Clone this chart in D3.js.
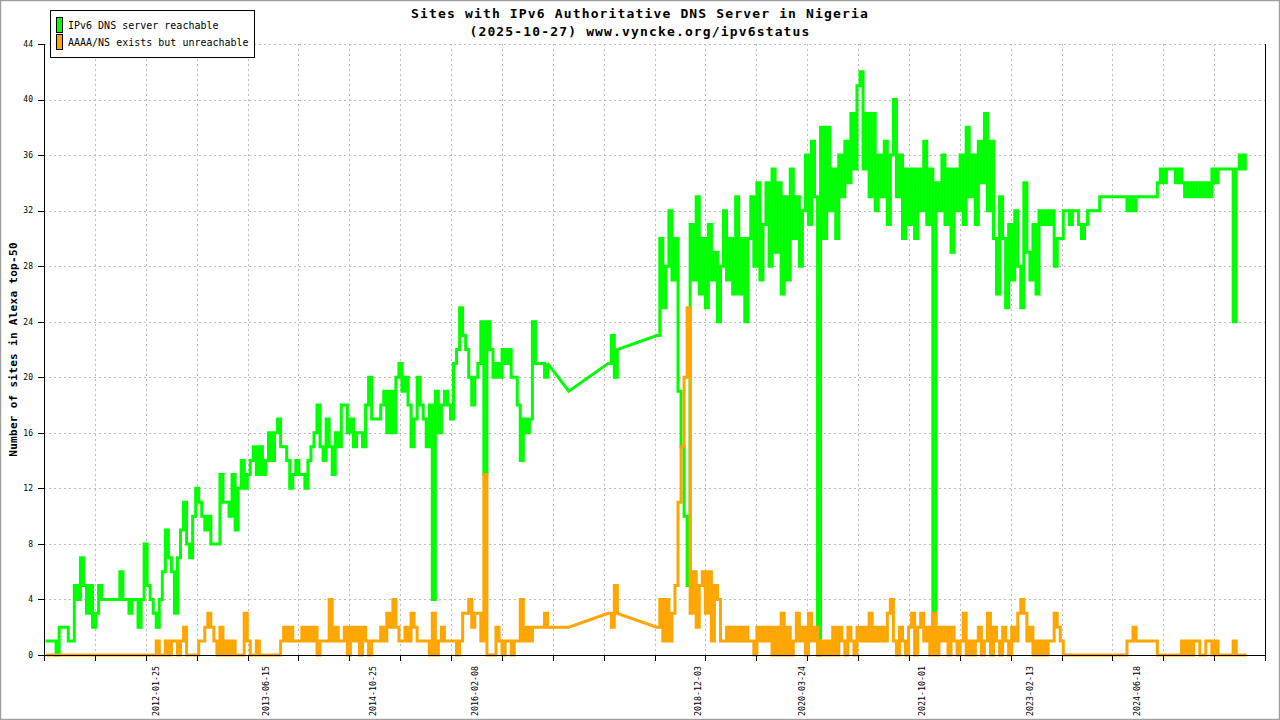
<!DOCTYPE html>
<html><head><meta charset="utf-8">
<script src="https://cdn.jsdelivr.net/npm/d3@7"></script>
<style>body{margin:0;background:#fff}svg{display:block}</style>
</head><body>
<svg id="c" width="1280" height="720"></svg>
<script>
// ---------------- data ----------------
const titleLines = ["Sites with IPv6 Authoritative DNS Server in Nigeria", "(2025-10-27) www.vyncke.org/ipv6status"];
const yAxisLabel = "Number of sites in Alexa top-50";
const seriesNames = ["IPv6 DNS server reachable", "AAAA/NS exists but unreachable"];
const seriesColors = ["#00ff00", "#ffa500"];
const xDomain = ["2010-08-27", "2026-01-30"];
const xGridDivisions = 24;
const xLabelDates = ["2012-01-25", "2013-06-15", "2014-10-25", "2016-02-08", "2018-12-03", "2020-03-24", "2021-10-01", "2023-02-13", "2024-06-18"];
const yTicks = [0, 4, 8, 12, 16, 20, 24, 28, 32, 36, 40, 44];
// samples taken every 14 days from sampleStart; null = no measurement (gap)
const sampleStart = "2010-09-10";
const sampleStepDays = 14;
const reachable = [
1,1,1,0,2,2,2,1,1,5,
4,7,5,3,5,2,3,5,4,4,
4,4,4,4,6,4,4,3,4,4,
2,4,8,5,4,3,2,4,6,9,
7,6,3,7,9,11,8,7,10,12,
11,10,9,10,8,8,8,13,11,11,
10,13,9,12,14,12,13,14,15,13,
15,13,14,16,14,16,17,15,15,14,
12,13,14,13,13,12,14,15,16,18,
15,14,17,15,13,16,15,18,18,16,
17,15,16,16,15,18,20,17,17,17,
18,19,16,19,16,20,21,19,20,18,
15,17,20,18,17,15,18,4,19,16,
18,19,18,17,21,22,25,23,22,20,
18,20,21,24,13,24,22,20,21,20,
22,21,22,20,20,18,14,17,16,17,
24,21,21,21,20,21,null,null,null,null,
null,null,19,null,null,null,null,null,null,null,
null,null,null,null,null,21,23,20,22,null,
null,null,null,null,null,null,null,null,null,null,
null,23,30,25,28,32,27,30,19,15,
10,5,31,27,33,26,30,25,31,27,
29,24,28,32,27,30,26,33,26,30,
24,30,33,28,34,27,31,34,28,35,
29,34,26,33,27,35,30,33,28,32,
36,31,37,33,0,38,30,38,32,35,
30,36,33,37,34,39,35,41,42,35,
39,33,39,32,36,33,37,31,36,40,
33,36,30,35,31,35,30,35,32,37,
31,35,2,34,32,36,31,35,29,35,
32,36,31,38,33,36,31,37,34,39,
32,37,30,26,33,30,25,31,27,32,
28,25,34,29,27,31,26,32,31,32,
31,32,28,30,30,32,32,31,32,32,
31,30,31,32,32,32,32,33,33,33,
33,33,33,33,33,33,32,33,32,33,
33,33,33,33,33,33,34,35,34,35,
35,35,34,35,34,33,34,33,34,33,
34,33,34,33,35,34,35,35,35,35,
35,24,35,36,35,36
];
const unreachable = [
0,0,0,0,0,0,0,0,0,0,
0,0,0,0,0,0,0,0,0,0,
0,0,0,0,0,0,0,0,0,0,
0,0,0,0,0,0,1,0,0,1,
0,1,1,0,1,2,0,0,0,0,
1,1,2,3,2,1,0,2,0,1,
0,1,0,0,0,3,1,0,0,1,
0,0,0,0,0,0,0,1,2,1,
2,1,1,1,2,1,2,1,2,0,
1,1,1,4,1,2,1,1,2,0,
2,1,2,0,2,1,0,1,1,1,
2,1,3,2,4,2,1,1,2,1,
3,2,1,1,1,1,0,3,0,1,
2,1,1,1,1,0,1,3,3,4,
2,3,3,1,13,0,0,0,2,1,
0,1,1,0,1,1,4,1,2,1,
2,2,2,2,3,2,null,null,null,null,
null,null,2,null,null,null,null,null,null,null,
null,null,null,null,null,3,2,5,3,null,
null,null,null,null,null,null,null,null,null,null,
null,2,4,1,4,1,3,5,11,15,
20,25,3,6,2,5,6,3,6,1,
5,4,1,1,2,1,2,1,2,1,
2,1,1,0,2,1,2,1,2,0,
2,0,3,0,2,0,1,3,1,2,
0,3,1,2,0,1,0,1,0,2,
0,2,1,0,2,1,0,2,1,2,
1,3,1,2,1,2,1,3,4,1,
0,2,1,0,2,3,0,2,3,1,
2,0,3,0,2,1,2,0,2,1,
0,1,3,0,1,0,1,2,0,1,
3,0,2,1,0,2,1,0,2,1,
3,4,3,1,2,0,1,0,1,0,
1,1,3,2,1,0,0,0,0,0,
0,0,0,0,0,0,0,0,0,0,
0,0,0,0,0,0,1,1,2,1,
1,1,1,1,1,1,0,0,0,0,
0,0,0,0,1,0,1,0,1,1,
0,0,1,1,0,1,0,0,0,0,
0,1,0,0,0,0
];

// ---------------- chart ----------------
const W = 1280, H = 720;
const plot = {left: 44, right: 1265, top: 44, bottom: 655};
const parse = d3.utcParse("%Y-%m-%d");
const svg = d3.select("#c");
const mono = "'DejaVu Sans Mono', 'Liberation Mono', monospace";

svg.append("rect").attr("x", 0).attr("y", 0).attr("width", W).attr("height", H).attr("fill", "#fff");
svg.append("rect").attr("x", 0.5).attr("y", 0.5).attr("width", W - 1).attr("height", H - 1)
  .attr("fill", "none").attr("stroke", "#a0a0a0").attr("stroke-width", 1.5);

const x = d3.scaleUtc().domain(xDomain.map(parse)).range([plot.left, plot.right]);
const y = d3.scaleLinear().domain([0, 44]).range([plot.bottom, plot.top]);

const t0 = x.domain()[0].getTime(), t1 = x.domain()[1].getTime();
const gridDates = d3.range(xGridDivisions + 1).map(i => new Date(t0 + (t1 - t0) * i / xGridDivisions));

// grid
const grid = svg.append("g").attr("stroke", "#bdbdbd").attr("stroke-dasharray", "2,3").attr("shape-rendering", "crispEdges");
yTicks.filter(v => v > 0).forEach(v => {
  grid.append("line").attr("x1", plot.left).attr("x2", plot.right)
    .attr("y1", Math.round(y(v)) + 0.5).attr("y2", Math.round(y(v)) + 0.5);
});
gridDates.slice(1, -1).forEach(d => {
  grid.append("line").attr("y1", plot.top).attr("y2", plot.bottom)
    .attr("x1", Math.round(x(d)) + 0.5).attr("x2", Math.round(x(d)) + 0.5);
});

// series: consecutive samples are joined as steps, measurement gaps as straight lines
const dates = reachable.map((_, i) => d3.utcDay.offset(parse(sampleStart), i * sampleStepDays));
function series(vals) {
  const pts = [];
  let prev = -1;
  vals.forEach((v, i) => {
    if (v === null) return;
    if (prev >= 0 && i === prev + 1) pts.push({d: dates[i], v: vals[prev]});
    pts.push({d: dates[i], v});
    prev = i;
  });
  return pts;
}
const line = d3.line().x(p => x(p.d)).y(p => y(p.v));
[reachable, unreachable].forEach((vals, k) => {
  svg.append("path").datum(series(vals)).attr("d", line)
    .attr("fill", "none").attr("stroke", seriesColors[k]).attr("stroke-width", 3)
    .attr("stroke-linejoin", "miter").attr("stroke-miterlimit", 2).attr("stroke-linecap", "square");
});

// axes
const ax = svg.append("g").attr("stroke", "#000").attr("shape-rendering", "crispEdges");
ax.append("line").attr("x1", plot.left + 0.5).attr("x2", plot.left + 0.5).attr("y1", plot.top).attr("y2", plot.bottom + 1);
ax.append("line").attr("x1", plot.right + 0.5).attr("x2", plot.right + 0.5).attr("y1", plot.top).attr("y2", plot.bottom + 1);
ax.append("line").attr("x1", plot.left).attr("x2", plot.right + 1).attr("y1", plot.bottom + 0.5).attr("y2", plot.bottom + 0.5);
yTicks.forEach(v => {
  const yy = Math.round(y(v)) + 0.5;
  ax.append("line").attr("x1", plot.left - 6).attr("x2", plot.left).attr("y1", yy).attr("y2", yy);
});
gridDates.forEach(d => {
  const xx = Math.round(x(d)) + 0.5;
  ax.append("line").attr("x1", xx).attr("x2", xx).attr("y1", plot.bottom).attr("y2", plot.bottom + 6);
});

// y tick labels
svg.append("g").selectAll("text").data(yTicks).join("text")
  .attr("x", plot.left - 11).attr("y", v => y(v)).attr("dy", "0.35em")
  .attr("text-anchor", "end").attr("font-family", mono).attr("font-size", 8).attr("fill", "#000")
  .text(v => v);

// x tick labels
svg.append("g").selectAll("text").data(xLabelDates).join("text")
  .attr("transform", d => `translate(${x(parse(d))},${plot.bottom + 11}) rotate(-90)`)
  .attr("text-anchor", "end").attr("dy", "0.35em")
  .attr("font-family", mono).attr("font-size", 8.3).attr("fill", "#000")
  .text(d => d);

// y axis title
svg.append("text").attr("transform", `translate(13,${(plot.top + plot.bottom) / 2}) rotate(-90)`)
  .attr("text-anchor", "middle").attr("dy", "0.35em")
  .attr("font-family", mono).attr("font-weight", "bold").attr("font-size", 11).attr("letter-spacing", 0.3)
  .attr("fill", "#000").text(yAxisLabel);

// title
titleLines.forEach((t, i) => {
  svg.append("text").attr("x", W / 2).attr("y", 18 + i * 18).attr("text-anchor", "middle")
    .attr("font-family", mono).attr("font-weight", "bold").attr("font-size", 13).attr("letter-spacing", 1.15)
    .attr("fill", "#000").text(t);
});

// legend
const lg = svg.append("g");
lg.append("rect").attr("x", 50.5).attr("y", 10.5).attr("width", 204).attr("height", 47)
  .attr("fill", "#fff").attr("stroke", "#000");
seriesNames.forEach((n, k) => {
  lg.append("rect").attr("x", 56.5).attr("y", 17.5 + k * 17).attr("width", 6).attr("height", 15)
    .attr("fill", seriesColors[k]).attr("stroke", "#000");
  lg.append("text").attr("x", 68).attr("y", 29 + k * 17)
    .attr("font-family", mono).attr("font-size", 10).attr("fill", "#000").text(n);
});
</script>
</body></html>
